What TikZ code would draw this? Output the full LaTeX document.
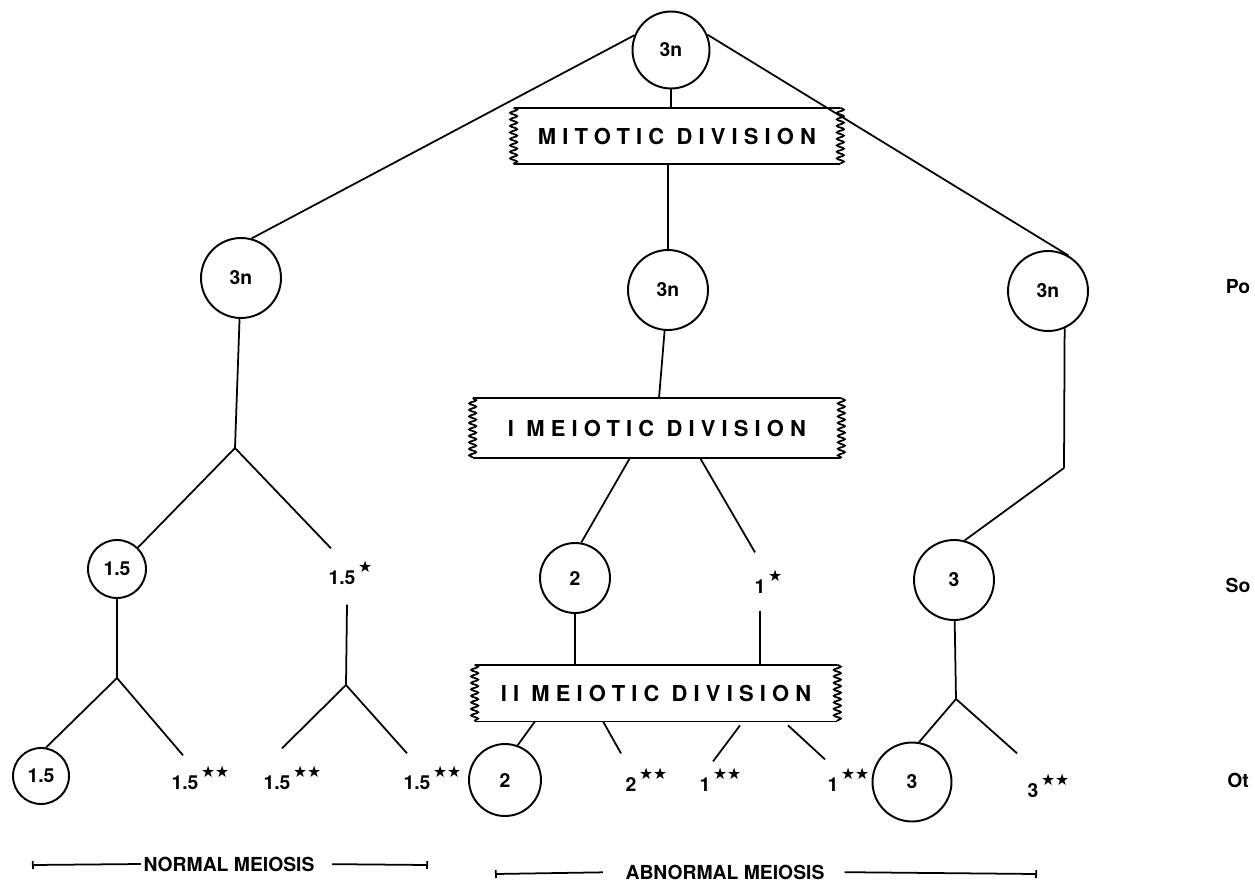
\documentclass[tikz,border=0pt]{standalone}
\usepackage{fontspec}
\setmainfont{TeX Gyre Heros}
\newfontfamily\starfont{DejaVu Sans}
\newfontfamily\divfont[LetterSpace=28]{TeX Gyre Heros}
\usetikzlibrary{calc,arrows.meta,decorations.pathmorphing}

\newcommand{\stars}[1]{\rlap{\hspace{1.5pt}\raisebox{1.2ex}{\fontsize{9}{9}\selectfont\starfont #1}}}

\begin{document}
\begin{tikzpicture}[x=0.02cm, y=-0.02cm, line width=1pt, every node/.style={font=\fontsize{11}{13}\selectfont\bfseries}]
\tikzstyle{cell}=[draw, circle, inner sep=0pt, line width=1.1pt]
\tikzstyle{num}=[inner sep=1pt]
\tikzstyle{division}=[inner sep=0pt, font=\fontsize{12.5}{14}\selectfont\bfseries\divfont]
\tikzstyle{wavy}=[decorate, decoration={snake, amplitude=0.07cm, segment length=0.13cm}]
\useasboundingbox (0,0) rectangle (1255,883);

\node[cell, minimum size=1.54cm] (top) at (671,50) {3n};
\node[division, minimum width=6.5cm, minimum height=1.1cm] (mit) at (677,136) {MITOTIC DIVISION};
\node[cell, minimum size=1.6cm] (p1) at (241,278) {3n};
\node[cell, minimum size=1.6cm] (p2) at (668,290) {3n};
\node[cell, minimum size=1.6cm] (p3) at (1048,291) {3n};
\node[division, minimum width=7.34cm, minimum height=1.16cm] (mei1) at (657,428) {I MEIOTIC DIVISION};

\node[cell, minimum size=1.16cm] (s1) at (117,569) {1.5};
\node[num] (s2) at (342,573) {1.5\stars{★}};
\node[cell, minimum size=1.4cm] (s3) at (575,578) {2};
\node[num] (s4) at (760,582) {1\stars{★}};
\node[cell, minimum size=1.6cm] (s5) at (954,580) {3};
\node[division, minimum width=7.22cm, minimum height=1.1cm] (mei2) at (656,693) {II MEIOTIC DIVISION};

\node[cell, minimum size=1.12cm] (o1) at (41,776) {1.5};
\node[num] (o2) at (185,778) {1.5\stars{★★}};
\node[num] (o3) at (277,778) {1.5\stars{★★}};
\node[num] (o4) at (417,778) {1.5\stars{★★}};
\node[cell, minimum size=1.44cm] (o5) at (505,780) {2};
\node[num] (o6) at (631,780) {2\stars{★★}};
\node[num] (o7) at (705,780) {1\stars{★★}};
\node[num] (o8) at (833,780) {1\stars{★★}};
\node[cell, minimum size=1.58cm] (o9) at (912,782) {3};
\node[num] (o10) at (1033,786) {3\stars{★★}};

\node (po) at (1238,287) {Po};
\node (so) at (1238,585) {So};
\node (ot) at (1238,780) {Ot};

\coordinate (j1) at (235,448);
\coordinate (j2) at (117,678);
\coordinate (j3) at (346,685);
\coordinate (j4) at (1064,468);
\coordinate (j5) at (956,699);

% division boxes with torn sides
\foreach \b in {mit,mei1,mei2} {
  \draw (\b.north west) -- (\b.north east);
  \draw (\b.south west) -- (\b.south east);
  \draw[wavy] (\b.north west) -- (\b.south west);
  \draw[wavy] (\b.north east) -- (\b.south east);
}

\draw (top.158) -- (p1.75);
\draw (top.23) -- (p3.60);
\draw (top) -- (top |- mit.north);
\draw (p2 |- mit.south) -- (p2);
\draw (p2) -- ($(mei1.north)+(2,0)$);

% left branch
\draw (p1) -- (j1);
\draw (j1) -- (s1);
\draw (j1) -- ($(s2.north west)+(5,-10)$);
\draw (s1) -- (j2);
\draw (j2) -- (o1.80);
\draw (j2) -- ($(o2.north)+(-2,-8)$);
\draw ($(s2.south)+(5,17)$) -- (j3);
\draw (j3) -- ($(o3.north)+(5,-15)$);
\draw (j3) -- ($(o4.north)+(-10,-10)$);

% middle branch
\draw ($(mei1.south)+(-27,0)$) -- (s3.80);
\draw ($(mei1.south)+(43,0)$) -- ($(s4.north)+(-5,-15)$);
\draw (s3) -- (s3 |- mei2.north);
\draw[shorten <=0.28cm] (s4.south) -- (s4.south |- mei2.north);
\draw ($(mei2.south)+(-121,0)$) -- (o5.70);
\draw ($(mei2.south)+(-53,0)$) -- ($(o6.north west)+(-2,-12)$);
\draw ($(mei2.south)+(84,4)$) -- ($(o7.north)+(8,-4)$);
\draw ($(mei2.south)+(132,4)$) -- ($(o8.north)+(-8,-6)$);

% right branch
\draw (p3.-66) -- (j4);
\draw (j4) -- (s5.75);
\draw (s5) -- (j5);
\draw (j5) -- (o9.80);
\draw (j5) -- ($(o10.north)+(-16,-18)$);

% meiosis ranges
\coordinate (nl) at (32,865);
\coordinate (nr) at (428,865);
\node[inner sep=1pt] (normal) at (229,864) {NORMAL MEIOSIS};
\draw[{Bar[width=0.16cm]}-] (nl) -- (normal.west);
\draw[-{Bar[width=0.16cm]}, shorten <=0.3cm] (normal.east) -- (nr);
\coordinate (al) at (495,874);
\coordinate (ar) at (1037,874);
\node[inner sep=1pt] (abnormal) at (725,872) {ABNORMAL MEIOSIS};
\draw[{Bar[width=0.16cm]}-, shorten >=0.4cm] (al) -- (abnormal.west);
\draw[-{Bar[width=0.16cm]}, shorten <=0.35cm] (abnormal.east) -- (ar);
\end{tikzpicture}
\end{document}
